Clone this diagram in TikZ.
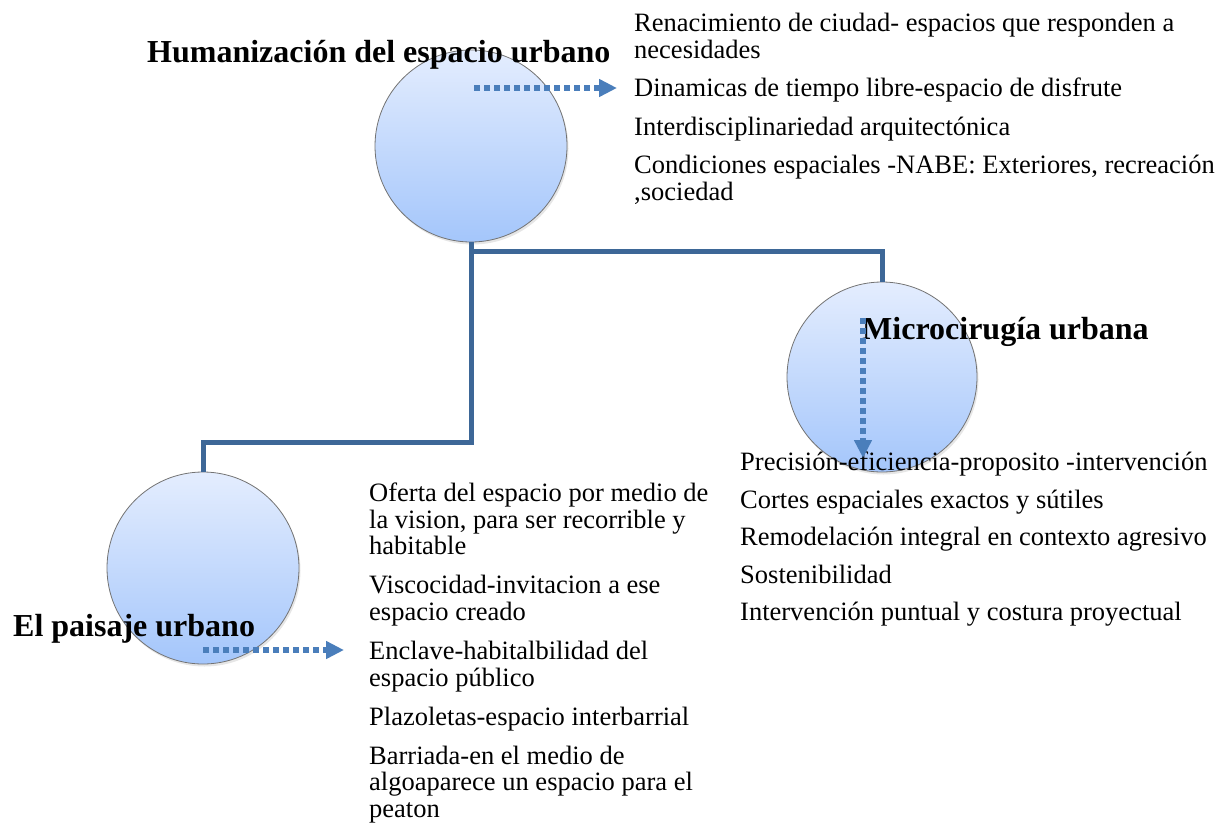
\documentclass[tikz,border=0pt]{standalone}
\usepackage{fontspec}
\setmainfont{Liberation Serif}
\usepackage{tikz}
\usetikzlibrary{positioning,arrows.meta,shadows}
\definecolor{circtop}{RGB}{228,237,254}
\definecolor{circbot}{RGB}{164,198,251}
\definecolor{tronco}{RGB}{61,103,151}
\definecolor{flecha}{RGB}{74,126,187}

\begin{document}
\begin{tikzpicture}[x=1pt,y=-1pt,
circulo/.style={circle,draw=black!55,line width=0.8pt,minimum size=192pt,inner sep=0pt,
    top color=circtop,bottom color=circbot,
    drop shadow={opacity=0.2,shadow xshift=1.5pt,shadow yshift=-2.5pt}},
rama/.style={draw=tronco,line width=5pt},
puntos/.style={draw=flecha,line width=5.5pt,dash pattern=on 6pt off 4pt,
    -{Triangle[length=18pt,width=17pt,fill=flecha]}},
lista/.style={anchor=north west,inner sep=0pt,align=left,
    font=\fontsize{26.5}{26.5}\selectfont},
titulo/.style={anchor=base west,inner sep=0pt,font=\fontsize{32}{32}\selectfont\bfseries}]
\useasboundingbox (0,0) rectangle (1223,822);

\node (human) [circulo] at (471,146) {};
\node (micro) [circulo,minimum size=190pt] at (882,377) {};
\node (paisaje) [circulo] at (203,568) {};

\draw [rama] (human.south) -- ++(0,200) -| (paisaje.north);
\draw [rama] (human.south) ++(0,9) -| (micro.north);

\node (humantxt) [lista] at (634,13) {\strut Renacimiento de ciudad- espacios que responden a\\
    necesidades\\[12pt]
    Dinamicas de tiempo libre-espacio de disfrute\\[12pt]
    Interdisciplinariedad arquitectónica\\[12pt]
    Condiciones espaciales -NABE: Exteriores, recreación\\
    ,sociedad};
\node (microtxt) [lista] at (740,452) {\strut Precisión-eficiencia-proposito -intervención\\[11pt]
    Cortes espaciales exactos y sútiles\\[11pt]
    Remodelación integral en contexto agresivo\\[11pt]
    Sostenibilidad\\[11pt]
    Intervención puntual y costura proyectual};
\node (paisajetxt) [lista] at (369,483) {\strut Oferta del espacio por medio de\\
    la vision, para ser recorrible y\\
    habitable\\[12.5pt]
    Viscocidad-invitacion a ese\\
    espacio creado\\[13pt]
    Enclave-habitalbilidad del\\
    espacio público\\[12.5pt]
    Plazoletas-espacio interbarrial\\[12.5pt]
    Barriada-en el medio de\\
    algoaparece un espacio para el\\
    peaton};

\node (humantit) [titulo] at (147,62) {Humanización del espacio urbano};
\node (microtit) [titulo] at (862,339) {Microcirugía urbana};
\node (paisajetit) [titulo] at (13,636) {El paisaje urbano};

\coordinate (h1) at (474,88);
\coordinate (h2) at (617,88);
\coordinate (m1) at (863,318);
\coordinate (m2) at (863,458);
\coordinate (p1) at (203,650);
\coordinate (p2) at (344,650);
\draw [puntos] (h1) -- (h2);
\draw [puntos] (m1) -- (m2);
\draw [puntos] (p1) -- (p2);
\end{tikzpicture}
\end{document}
